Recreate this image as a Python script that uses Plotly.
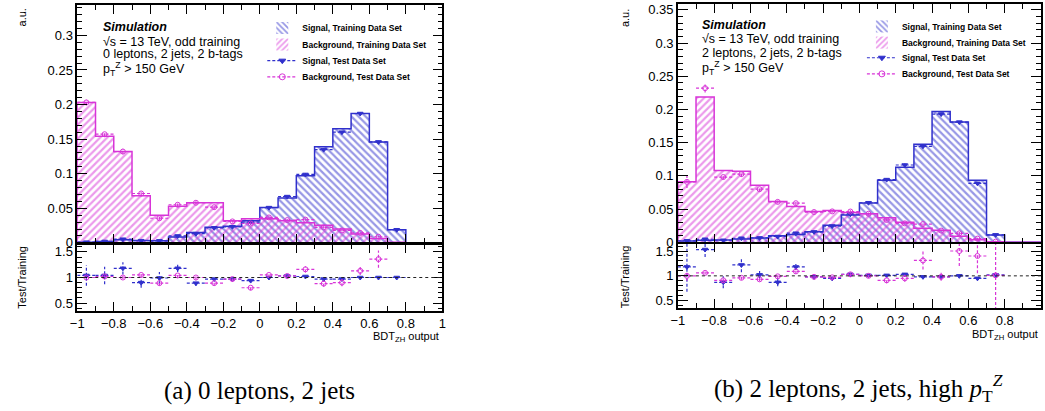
import plotly.graph_objects as go

W, H = 1045, 411

# ---------------- data ----------------
bin_edges = [-1.0, -0.9, -0.8, -0.7, -0.6, -0.5, -0.4, -0.3, -0.2, -0.1, 0.0,
             0.1, 0.2, 0.3, 0.4, 0.5, 0.6, 0.7, 0.8, 0.9, 1.0]
bin_centers = [-0.95, -0.85, -0.75, -0.65, -0.55, -0.45, -0.35, -0.25, -0.15, -0.05,
               0.05, 0.15, 0.25, 0.35, 0.45, 0.55, 0.65, 0.75, 0.85, 0.95]

# (a) 0 leptons, 2 jets
sig_train_a = [0.001, 0.002, 0.0045, 0.0035, 0.003, 0.0085, 0.015, 0.0225, 0.024, 0.032,
               0.051, 0.065, 0.097, 0.139, 0.165, 0.187, 0.146, 0.019, 0.0, 0.0]
bkg_train_a = [0.203, 0.154, 0.132, 0.068, 0.040, 0.053, 0.058, 0.058, 0.032, 0.035,
               0.035, 0.032, 0.029, 0.0255, 0.020, 0.0127, 0.0065, 0.001, 0.0, 0.0]
sig_ratio_a = [1.04, 1.04, 1.18, 0.90, 0.99, 1.18, 0.89, 0.97, 0.97, 0.94,
               1.00, 1.03, 1.02, 0.97, 0.97, 1.00, 1.00, 1.00]
sig_ratio_err_a = [0.20, 0.17, 0.12, 0.10, 0.12, 0.07, 0.05, 0.04, 0.035, 0.03,
                   0.025, 0.02, 0.02, 0.015, 0.015, 0.01, 0.01, 0.02]
bkg_ratio_a = [1.00, 1.02, 1.00, 1.05, 0.89, 1.04, 1.00, 0.89, 0.97, 0.80,
               1.05, 1.03, 1.16, 0.88, 0.90, 1.13, 1.36]
bkg_ratio_err_a = [0.02, 0.02, 0.03, 0.04, 0.05, 0.05, 0.04, 0.05, 0.05, 0.05,
                   0.05, 0.05, 0.06, 0.06, 0.07, 0.08, 0.17]

# (b) 2 leptons, 2 jets, high pTZ
sig_train_b = [0.002, 0.003, 0.0035, 0.005, 0.0065, 0.010, 0.0116, 0.016, 0.0257, 0.041,
               0.059, 0.0935, 0.113, 0.1475, 0.197, 0.181, 0.0935, 0.011, 0.0, 0.0]
bkg_train_b = [0.091, 0.219, 0.108, 0.107, 0.086, 0.0615, 0.054, 0.0465, 0.048, 0.045,
               0.043, 0.037, 0.030, 0.021, 0.018, 0.009, 0.004, 0.001, 0.0, 0.0]
sig_ratio_b = [1.18, 1.53, 0.87, 1.22, 1.02, 0.87, 1.18, 0.98, 0.95, 1.03,
               1.01, 1.01, 1.03, 0.98, 0.98, 1.00, 0.95, 1.02]
sig_ratio_err_b = [0.50, 0.15, 0.12, 0.15, 0.08, 0.08, 0.06, 0.04, 0.04, 0.03,
                   0.02, 0.02, 0.02, 0.015, 0.015, 0.015, 0.02, 0.05]
bkg_ratio_b = [1.00, 1.06, 0.91, 0.96, 0.93, 0.99, 1.09, 0.98, 0.97, 1.03,
               1.00, 0.91, 0.95, 1.31, 0.98, 1.50, 1.40, 1.01]
bkg_ratio_err_b = [0.10, 0.03, 0.03, 0.04, 0.04, 0.04, 0.05, 0.04, 0.04, 0.04,
                   0.04, 0.06, 0.07, 0.18, 0.08, 0.30, 0.35, 1.20]

x_tick_labels = ["\u22121", "\u22120.8", "\u22120.6", "\u22120.4", "\u22120.2", "0",
                 "0.2", "0.4", "0.6", "0.8", "1"]
x_tick_vals = [-1, -0.8, -0.6, -0.4, -0.2, 0, 0.2, 0.4, 0.6, 0.8, 1]

legend_names = ["Signal, Training Data Set", "Background, Training Data Set",
                "Signal, Test Data Set", "Background, Test Data Set"]

# ---------------- style ----------------
BLUE = "#3030cc"
MAG = "#d834d8"
FONT = "Liberation Sans, Arial, Helvetica, sans-serif"
SERIF = "Liberation Serif, Times New Roman, serif"
BW = 0.1


def px_x(p):
    return p / W


def px_y(p):
    return 1 - p / H


def step_xy(vals):
    xs = [bin_edges[0]] + list(bin_edges)
    ys = [0.0] + list(vals) + [0.0]
    return xs, ys


def seg_xy(cx, y, ey, half=BW / 2):
    xs, ys = [], []
    for c, v, e in zip(cx, y, ey):
        xs += [c - half, c + half, None, c, c, None]
        ys += [v, v, None, v - e, v + e, None]
    return xs, ys


fig = go.Figure()


def add_panel(sig_train, bkg_train, sig_r, sig_re, bkg_r, bkg_re, xa, ya, xr, yr, legs):
    # training histograms (hatched)
    fig.add_trace(go.Bar(
        x=bin_centers, y=sig_train, width=BW, xaxis=xa, yaxis=ya,
        marker=dict(color="rgba(0,0,0,0)", line=dict(width=0),
                    pattern=dict(shape="\\", fgcolor=BLUE, bgcolor="rgba(0,0,0,0)",
                                 size=5, solidity=0.45)),
        name=legend_names[0], legend=legs[0], showlegend=True))
    fig.add_trace(go.Bar(
        x=bin_centers, y=bkg_train, width=BW, xaxis=xa, yaxis=ya,
        marker=dict(color="rgba(0,0,0,0)", line=dict(width=0),
                    pattern=dict(shape="/", fgcolor=MAG, bgcolor="rgba(0,0,0,0)",
                                 size=5, solidity=0.45)),
        name=legend_names[1], legend=legs[1], showlegend=True))
    for vals, col in ((sig_train, BLUE), (bkg_train, MAG)):
        sx, sy = step_xy(vals)
        fig.add_trace(go.Scatter(x=sx, y=sy, xaxis=xa, yaxis=ya, mode="lines",
                                 line=dict(color=col, width=1.5, shape="hv"),
                                 showlegend=False, hoverinfo="skip"))

    # test points (upper) and ratios (lower)
    for k, (train, r, re, col, sym) in enumerate((
            (sig_train, sig_r, sig_re, BLUE, "triangle-down"),
            (bkg_train, bkg_r, bkg_re, MAG, "circle-open"))):
        n = len(r)
        cx = bin_centers[:n]
        test = [t * q for t, q in zip(train[:n], r)]
        test_e = [t * e for t, e in zip(train[:n], re)]
        ux, uy = seg_xy(cx, test, test_e)
        fig.add_trace(go.Scatter(x=ux, y=uy, xaxis=xa, yaxis=ya, mode="lines",
                                 line=dict(color=col, width=1.2, dash="3px,2px"),
                                 showlegend=False, hoverinfo="skip"))
        fig.add_trace(go.Scatter(x=cx, y=test, xaxis=xa, yaxis=ya, mode="markers",
                                 marker=dict(color=col, symbol=sym, size=5,
                                             line=dict(color=col, width=1)),
                                 showlegend=False))
        lx, ly = seg_xy(cx, r, re)
        fig.add_trace(go.Scatter(x=lx, y=ly, xaxis=xr, yaxis=yr, mode="lines",
                                 line=dict(color=col, width=1.2, dash="3px,2px"),
                                 showlegend=False, hoverinfo="skip"))
        fig.add_trace(go.Scatter(x=cx, y=r, xaxis=xr, yaxis=yr, mode="markers",
                                 marker=dict(color=col, symbol=sym, size=5,
                                             line=dict(color=col, width=1)),
                                 showlegend=False))
        # legend-only entry
        fig.add_trace(go.Scatter(x=[None], y=[None], xaxis=xa, yaxis=ya,
                                 mode="lines+markers", name=legend_names[2 + k],
                                 legend=legs[2 + k],
                                 line=dict(color=col, width=1.2, dash="3px,2px"),
                                 marker=dict(color=col, symbol=sym, size=6,
                                             line=dict(color=col, width=1))))


add_panel(sig_train_a, bkg_train_a, sig_ratio_a, sig_ratio_err_a, bkg_ratio_a,
          bkg_ratio_err_a, "x", "y", "x2", "y2",
          ["legend", "legend2", "legend3", "legend4"])
add_panel(sig_train_b, bkg_train_b, sig_ratio_b, sig_ratio_err_b, bkg_ratio_b,
          bkg_ratio_err_b, "x3", "y3", "x4", "y4",
          ["legend5", "legend6", "legend7", "legend8"])

# ---------------- axes ----------------
common = dict(showline=True, linecolor="black", linewidth=1.5, mirror="ticks",
              ticks="inside", tickcolor="black", tickwidth=1, showgrid=False,
              zeroline=False, tickfont=dict(family=FONT, size=13, color="black"))

XA = [px_x(71), px_x(440)]
XB = [px_x(678), 1.0]

xmin = dict(ticks="inside", ticklen=5, tickcolor="black", tickmode="linear",
            tick0=0, dtick=0.1, showgrid=False)
ymin_u = dict(ticks="inside", ticklen=5, tickcolor="black", dtick=0.01, showgrid=False)
ymin_r = dict(ticks="inside", ticklen=5, tickcolor="black", dtick=0.1, showgrid=False)

fig.update_layout(
    xaxis=dict(domain=XA, range=[-1, 1], anchor="y", showticklabels=False,
               tickmode="array", tickvals=x_tick_vals, ticklen=9, minor=xmin, **common),
    yaxis=dict(domain=[px_y(247.3), px_y(4)], range=[0, 0.344], anchor="x",
               tick0=0, dtick=0.05, ticklen=10, minor=ymin_u, **common),
    xaxis2=dict(domain=XA, range=[-1, 1], anchor="y2", tickmode="array",
                tickvals=x_tick_vals, ticktext=x_tick_labels, ticklen=9, minor=xmin,
                **common),
    yaxis2=dict(domain=[px_y(316.7), px_y(248.7)], range=[0.35, 1.65], anchor="x2",
                tick0=0, dtick=0.5, ticklen=10, minor=ymin_r, **common),
    xaxis3=dict(domain=XB, range=[-1, 1], anchor="y3", showticklabels=False,
                tickmode="array", tickvals=x_tick_vals, ticklen=9, minor=xmin, **common),
    yaxis3=dict(domain=[px_y(246.7), px_y(3)], range=[0, 0.359], anchor="x3",
                tick0=0, dtick=0.05, ticklen=10, minor=ymin_u, **common),
    xaxis4=dict(domain=XB, range=[-1, 1], anchor="y4", tickmode="array",
                tickvals=x_tick_vals[:-1], ticktext=x_tick_labels[:-1], ticklen=9,
                minor=xmin, **common),
    yaxis4=dict(domain=[px_y(314), px_y(248)], range=[0.35, 1.65], anchor="x4",
                tick0=0, dtick=0.5, ticklen=10, minor=ymin_r, **common),
)

legcommon = dict(bgcolor="rgba(0,0,0,0)", borderwidth=0, yanchor="middle",
                 xanchor="left", itemwidth=30,
                 font=dict(family=FONT, size=8.5, color="black", weight="bold"))
rows_a = [27.5, 44.5, 61, 77.5]
rows_b = [26, 42.5, 58, 74.5]
legs = {}
for i, yy in enumerate(rows_a):
    key = "legend" if i == 0 else f"legend{i + 1}"
    legs[key] = dict(x=px_x(258), y=px_y(yy), **legcommon)
for i, yy in enumerate(rows_b):
    legs[f"legend{i + 5}"] = dict(x=px_x(864), y=px_y(yy), **legcommon)
fig.update_layout(**legs)

# reference line at ratio = 1
for xr, yr in (("x2", "y2"), ("x4", "y4")):
    fig.add_shape(type="line", xref=f"{xr} domain", yref=yr, x0=0, x1=1, y0=1, y1=1,
                  line=dict(color="#222222", width=1, dash="3px,3px"))


# ---------------- text ----------------
def ann(text, x, y, size=12, xanchor="left", yanchor="middle", angle=0, family=FONT):
    fig.add_annotation(text=text, x=px_x(x), y=px_y(y), xref="paper", yref="paper",
                       showarrow=False, xanchor=xanchor, yanchor=yanchor,
                       textangle=angle, font=dict(family=family, size=size, color="black"))


for x0, lines_y, chan in ((95, (27, 41.5, 54.5, 70), "0 leptons, 2 jets, 2 b-tags"),
                          (700, (25, 39.3, 53.3, 68.5), "2 leptons, 2 jets, 2 b-tags")):
    ann("<b><i>Simulation</i></b>", x0, lines_y[0], size=12.5)
    ann("\u221as = 13 TeV, odd training", x0, lines_y[1], size=12.5)
    ann(chan, x0, lines_y[2], size=12.5)
    ann("p<sub>T</sub><sup>Z</sup> &gt; 150 GeV", x0, lines_y[3], size=12.5)

for xt, xr_end, ybdt in ((15, 439, 344), (624, 1044, 341)):
    ann("a.u.", xt, 17, size=11, xanchor="center", angle=-90)
    ann("Test/Training", xt, 282, size=11, xanchor="center", angle=-90)
    ann("BDT<sub>ZH</sub> output", xr_end, ybdt, size=11, xanchor="right")

ann("(a) 0 leptons, 2 jets", 255, 399, size=25, xanchor="center", family=SERIF)
ann("(b) 2 leptons, 2 jets, high <i>p</i><sub>T</sub><sup><i>Z</i></sup>", 861, 396,
    size=25, xanchor="center", family=SERIF)

fig.update_layout(width=W, height=H, margin=dict(l=0, r=0, t=0, b=0),
                  paper_bgcolor="white", plot_bgcolor="white", barmode="overlay",
                  bargap=0, showlegend=True)

fig.write_html("out.html")
